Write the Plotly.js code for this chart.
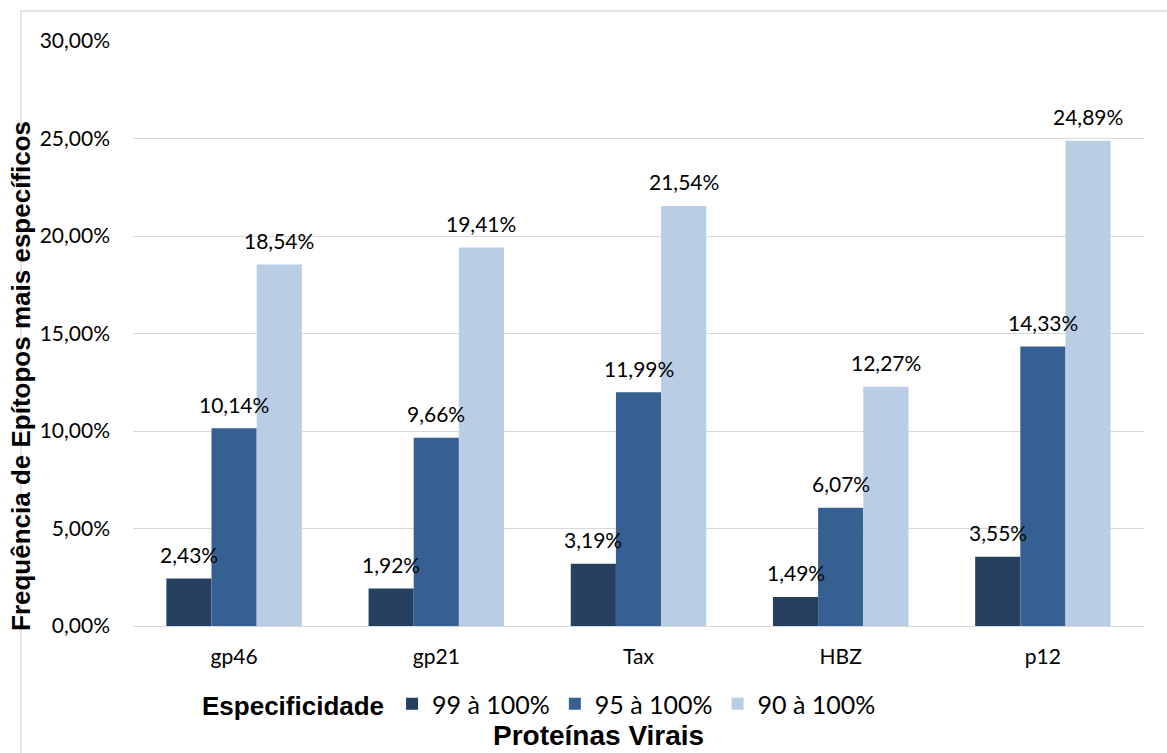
<!DOCTYPE html>
<html>
<head>
<meta charset="utf-8">
<script src="https://cdn.plot.ly/plotly-3.0.1.min.js"></script>
<style>
  html, body { margin: 0; padding: 0; background: #ffffff; }
  #chart { width: 1167px; height: 753px; }
</style>
</head>
<body>
<div id="chart"></div>
<script>
// Proteínas virais avaliadas
const categories = ['gp46', 'gp21', 'Tax', 'HBZ', 'p12'];

// Frequência de epítopos por faixa de especificidade (%)
const seriesNames = ['99 à 100%', '95 à 100%', '90 à 100%'];
const spec99 = [2.43, 1.92, 3.19, 1.49, 3.55];
const spec95 = [10.14, 9.66, 11.99, 6.07, 14.33];
const spec90 = [18.54, 19.41, 21.54, 12.27, 24.89];
const seriesValues = [spec99, spec95, spec90];
const seriesColors = ['#254061', '#376092', '#B9CDE5'];

const yTickVals = [0, 5, 10, 15, 20, 25, 30];
const yTickText = ['0,00%', '5,00%', '10,00%', '15,00%', '20,00%', '25,00%', '30,00%'];

const W = 1167, H = 753;
const margin = {l: 133, r: 23, t: 41, b: 127};
const plotW = W - margin.l - margin.r;
const plotH = H - margin.t - margin.b;
const barGap = 0.33;
const nSeries = seriesValues.length;
const barWidth = (1 - barGap) / nSeries;

const labelFamily = 'Lato, "Open Sans", sans-serif';
const boldFamily = '"Liberation Sans", Arial, sans-serif';
const labelFont = {family: labelFamily, size: 21, color: '#000000'};
const tickFont = {family: labelFamily, size: 21, color: '#000000'};
const boldFont = {family: boldFamily, size: 26, color: '#000000', weight: 'bold'};

const fmt = v => v.toFixed(2).replace('.', ',') + '%';

const traces = seriesValues.map((vals, j) => ({
  type: 'bar',
  name: seriesNames[j],
  x: categories,
  y: vals,
  marker: {color: seriesColors[j], line: {width: 0}},
  hoverinfo: 'skip'
}));

// value labels above each bar
const annotations = [];
seriesValues.forEach((vals, j) => {
  vals.forEach((v, i) => {
    annotations.push({
      xref: 'x', yref: 'y',
      x: i + (j - (nSeries - 1) / 2) * barWidth,
      y: v,
      text: fmt(v),
      showarrow: false,
      yanchor: 'middle',
      yshift: 24,
      font: labelFont
    });
  });
});

// vertical axis title
annotations.push({
  xref: 'paper', yref: 'paper',
  x: (21 - margin.l) / plotW,
  y: (H - margin.b - 376) / plotH,
  text: 'Frequência de Epítopos mais específicos',
  textangle: -90,
  showarrow: false,
  xanchor: 'center', yanchor: 'middle',
  font: boldFont
});

// horizontal axis title
annotations.push({
  xref: 'paper', yref: 'paper',
  x: (598 - margin.l) / plotW,
  y: (H - margin.b - 735) / plotH,
  text: 'Proteínas Virais',
  showarrow: false,
  xanchor: 'center', yanchor: 'middle',
  font: Object.assign({}, boldFont, {size: 28})
});

const layout = {
  width: W,
  height: H,
  margin: margin,
  paper_bgcolor: '#ffffff',
  plot_bgcolor: '#ffffff',
  barmode: 'group',
  bargap: barGap,
  bargroupgap: 0,
  showlegend: true,
  legend: {
    orientation: 'h',
    x: (200 - margin.l) / plotW,
    xanchor: 'left',
    y: (H - margin.b - 704) / plotH,
    yanchor: 'middle',
    title: {text: 'Especificidade', side: 'left', font: boldFont},
    font: {family: labelFamily, size: 25, color: '#000000'},
    itemwidth: 30,
    bgcolor: 'rgba(0,0,0,0)'
  },
  xaxis: {
    type: 'category',
    showgrid: false,
    showline: false,
    zeroline: false,
    ticks: '',
    tickfont: tickFont,
    ticklabelstandoff: 16,
    fixedrange: true
  },
  yaxis: {
    range: [0, 30],
    tickvals: yTickVals,
    ticktext: yTickText,
    showgrid: true,
    gridcolor: '#D9D9D9',
    gridwidth: 1,
    zeroline: true,
    zerolinecolor: '#D9D9D9',
    zerolinewidth: 1,
    showline: false,
    ticks: '',
    tickfont: tickFont,
    ticklabelstandoff: 22,
    fixedrange: true
  },
  annotations: annotations,
  shapes: [{
    type: 'rect',
    xref: 'paper', yref: 'paper',
    x0: (21 - margin.l) / plotW,
    x1: (W + 10 - margin.l) / plotW,
    y0: (H - margin.b - (H + 10)) / plotH,
    y1: (H - margin.b - 11) / plotH,
    line: {color: '#D9D9D9', width: 1.5},
    fillcolor: 'rgba(0,0,0,0)',
    layer: 'below'
  }]
};

Plotly.newPlot('chart', traces, layout, {displayModeBar: false, staticPlot: true});
</script>
</body>
</html>
